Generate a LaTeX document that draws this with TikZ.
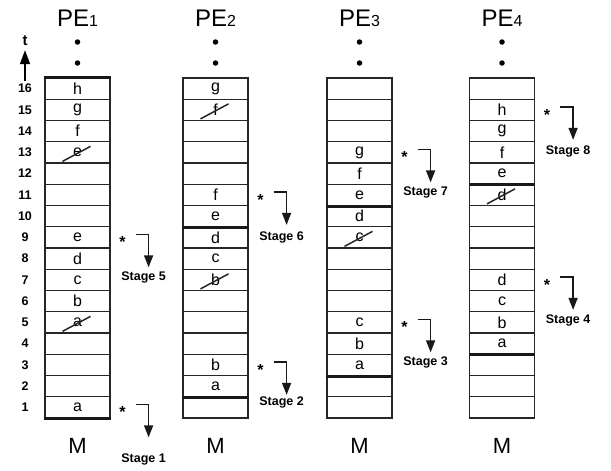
\documentclass[tikz,border=0pt]{standalone}
\usepackage{fontspec}
\setmainfont{Liberation Sans}
\usetikzlibrary{arrows.meta}
\begin{document}
\begin{tikzpicture}[x=1pt,y=-1pt,
  cell/.style={draw=black!85, line width=1.2pt, minimum width=65pt,
    minimum height=21.25pt, inner sep=0pt},
  letter/.style={inner sep=0pt, font=\fontsize{16}{16}\selectfont},
  heavy/.style={line width=3pt, black!90},
  strike/.style={line width=1.5pt, black!85},
  rownum/.style={inner sep=0pt, font=\bfseries\fontsize{12.5}{12.5}\selectfont},
  pelabel/.style={inner sep=0pt, anchor=base, font=\fontsize{24}{24}\selectfont},
  memlabel/.style={inner sep=0pt, anchor=base, font=\fontsize{22}{22}\selectfont},
  dotmark/.style={circle, fill=black, inner sep=0pt, minimum size=5.5pt},
  starmark/.style={inner sep=0pt, font=\bfseries\fontsize{16}{16}\selectfont},
  stagelbl/.style={inner sep=0pt, font=\bfseries\fontsize{12.5}{12.5}\selectfont},
  stagearrow/.style={line width=1.6pt, black!90, -{Triangle[length=12pt,width=9pt]}},
]
\useasboundingbox (0,0) rectangle (611,471);

% memory columns, 16 time slots each
\foreach \c/\cx in {1/77.5, 2/215.5, 3/359.5, 4/502} {
  \foreach \r in {1,...,16} {
    \node[cell] (p\c r\r) at (\cx, {418-(\r-0.5)*21.25}) {};
  }
  \node[pelabel] (pe\c) at (\cx, 26) {PE{\fontsize{16}{16}\selectfont\c}};
  \node[dotmark] (da\c) at (\cx, 42) {};
  \node[dotmark] (db\c) at (\cx, 63) {};
  \node[memlabel] (m\c) at (\cx, 453) {M};
}

% time axis
\foreach \r in {1,...,16} {
  \node[rownum] (n\r) at (25, {418-(\r-0.5)*21.25}) {\r};
}
\node[inner sep=0pt, font=\bfseries\fontsize{15}{15}\selectfont] (tlab) at (25, 41) {t};
\coordinate (tbase) at (25, 81);
\draw[line width=1.6pt, -{Triangle[length=14pt,width=10pt]}]
  (tbase) -- ([yshift=-4pt]tlab.south);

% stored items
\foreach \c/\r/\l in {1/16/h, 1/15/g, 1/14/f, 1/13/e, 1/9/e, 1/8/d, 1/7/c, 1/6/b, 1/5/a, 1/1/a,
                      2/16/g, 2/15/f, 2/11/f, 2/10/e, 2/9/d, 2/8/c, 2/7/b, 2/3/b, 2/2/a,
                      3/13/g, 3/12/f, 3/11/e, 3/10/d, 3/9/c, 3/5/c, 3/4/b, 3/3/a,
                      4/15/h, 4/14/g, 4/13/f, 4/12/e, 4/11/d, 4/7/d, 4/6/c, 4/5/b, 4/4/a} {
  \node[letter] (x\c r\r) at (p\c r\r.center) {\l};
}

% consumed items are struck through
\foreach \c/\r in {1/13, 1/5, 2/15, 2/7, 3/9, 4/11} {
  \draw[strike] ([shift={(-15,9)}]p\c r\r.center) -- ([shift={(13,-6)}]p\c r\r.center);
}

% stage boundaries
\draw[heavy] (p1r16.north west) -- (p1r16.north east);
\draw[heavy] (p1r1.south west) -- (p1r1.south east);
\draw[heavy] (p2r10.south west) -- (p2r10.south east);
\draw[heavy] (p2r2.south west) -- (p2r2.south east);
\draw[heavy] (p3r11.south west) -- (p3r11.south east);
\draw[heavy] (p3r3.south west) -- (p3r3.south east);
\draw[heavy] (p4r12.south west) -- (p4r12.south east);
\draw[heavy] (p4r4.south west) -- (p4r4.south east);

% stage markers
\foreach \c/\r/\s/\ly in {1/1/1/52, 1/9/5/40, 2/3/2/38, 2/11/6/43,
                          3/5/3/40, 3/13/7/40, 4/7/4/41, 4/15/8/42} {
  \node[starmark] (st\s) at ([shift={(12,5)}]p\c r\r.east) {*};
  \coordinate (sa\s) at ([shift={(25,-3)}]p\c r\r.east);
  \coordinate (sb\s) at ([shift={(38,30)}]p\c r\r.east);
  \draw[stagearrow] (sa\s) -| (sb\s);
  \node[stagelbl] (sl\s) at ([shift={(33,\ly)}]p\c r\r.east) {Stage \s};
}
\end{tikzpicture}
\end{document}
